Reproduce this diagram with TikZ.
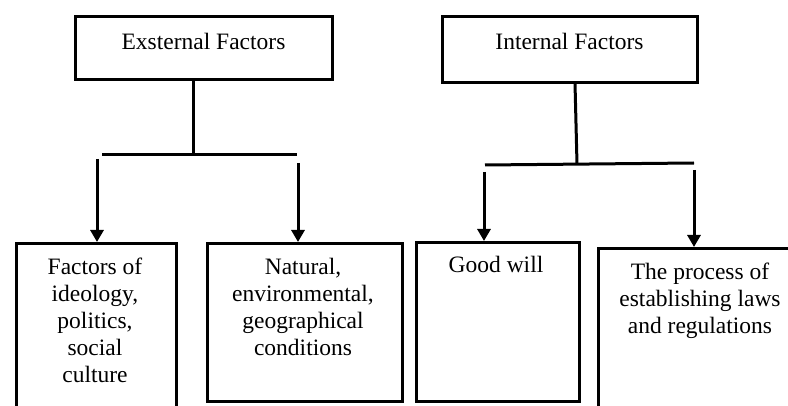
\documentclass[tikz,border=0pt]{standalone}
\usepackage{fontspec}
\setmainfont{Liberation Serif}
\usetikzlibrary{arrows.meta}
\begin{document}
\begin{tikzpicture}[x=1pt,y=-1pt,
  box/.style={draw=black,line width=3pt,minimum width=#1},
  lbl/.style={inner sep=0pt,align=center,font=\fontsize{23.5}{27}\selectfont},
  conn/.style={line width=3pt},
  arr/.style={line width=3pt,-{Triangle[width=13pt,length=12pt]}}]
\useasboundingbox (0,0) rectangle (788,406);
\clip (0,0) rectangle (788,406);
\fill[white] (0,0) rectangle (788,406);
% boxes
\draw[line width=3pt] (75,17) rectangle (332,80);
\coordinate (extS) at (193,80);
\draw[line width=3pt] (442,17) rectangle (697,83);
\coordinate (intS) at (575,83);
\node[lbl,anchor=base] (extT) at (203.5,50) {Exsternal Factors};
\node[lbl,anchor=base] (intT) at (569.5,50) {Internal Factors};
% bottom boxes as nodes
\node[draw,line width=3pt,minimum width=160pt,minimum height=166pt,anchor=north west,inner sep=0pt] (b1) at (15,242) {};
\node[draw,line width=3pt,minimum width=195pt,minimum height=158pt,anchor=north west,inner sep=0pt] (b2) at (206,242) {};
\node[draw,line width=3pt,minimum width=163pt,minimum height=159pt,anchor=north west,inner sep=0pt] (b3) at (415,241) {};
\node[draw,line width=3pt,minimum width=210pt,minimum height=170pt,anchor=north west,inner sep=0pt] (b4) at (597,247) {};
\node[lbl,anchor=north] (t1) at (95,258) {Factors of\\ideology,\\politics,\\social\\culture};
\node[lbl,anchor=north] (t2) at (303,258) {Natural,\\environmental,\\geographical\\conditions};
\node[lbl,anchor=north] (t3) at (496,256) {Good will};
\node[lbl,anchor=north] (t4) at (700,263) {The process of\\establishing laws\\and regulations};
% connectors external
\coordinate (eb) at (193,155);
\coordinate (ebl) at (102,155);
\coordinate (ebr) at (297,155);
\draw[conn] (extS) -- (eb);
\draw[conn] (ebl) -- (ebr);
\coordinate (ea1) at (97,159);
\coordinate (ea2) at (298,163);
\draw[arr] (ea1) -- (ea1 |- b1.north);
\draw[arr] (ea2) -- (ea2 |- b2.north);
% connectors internal
\coordinate (ib) at (577,164);
\coordinate (ibl) at (485,165);
\coordinate (ibr) at (694,163);
\draw[conn] (intS) -- (ib);
\draw[conn] (ibl) -- (ibr);
\coordinate (ia1) at (484,172);
\coordinate (ia2) at (694,170);
\draw[arr] (ia1) -- (ia1 |- b3.north);
\draw[arr] (ia2) -- (ia2 |- b4.north);
\end{tikzpicture}
\end{document}
